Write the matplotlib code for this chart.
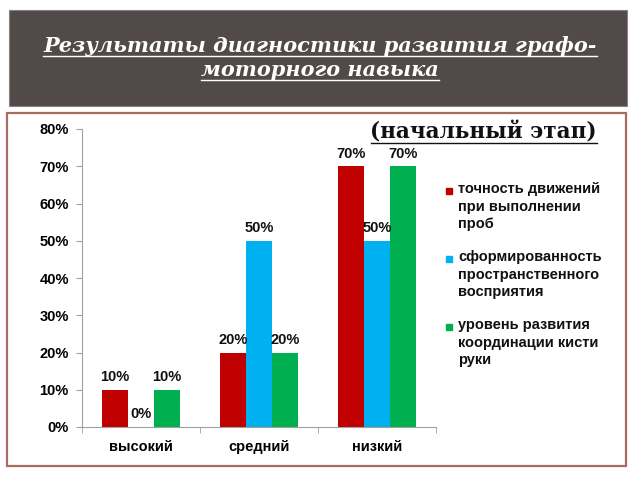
import numpy as np
import matplotlib.pyplot as plt
from matplotlib.patches import Rectangle
from matplotlib.lines import Line2D
from matplotlib.ticker import FuncFormatter

categories = ["высокий", "средний", "низкий"]
series_names = ["точность движений\nпри выполнении\nпроб",
                "сформированность\nпространственного\nвосприятия",
                "уровень развития\nкоординации кисти\nруки"]
accuracy = [10, 20, 70]
spatial = [0, 50, 50]
coordination = [10, 20, 70]
colors = ["#C00000", "#00B0F0", "#00B050"]

title_lines = ["Результаты диагностики развития графо-", "моторного навыка"]
subtitle = "(начальный этап)"

plt.rcParams['font.family'] = ['Liberation Sans', 'DejaVu Sans']

fig = plt.figure(figsize=(6.4, 4.8), dpi=100)
W, H = 640, 480

def fx(px):
    return px / W

def fy(py):
    return 1 - py / H

# title banner
fig.patches.append(Rectangle((fx(9), fy(106)), fx(618), 96 / H, transform=fig.transFigure,
                             facecolor="#524A49", edgecolor="#8a8282", lw=0.8, zorder=0))
# frame around the chart
fig.patches.append(Rectangle((fx(7), fy(466)), fx(619), 353 / H, transform=fig.transFigure,
                             facecolor="none", edgecolor="#A86B60", lw=1.6, zorder=0))

ax = fig.add_axes([fx(82), fy(427), fx(354), 298 / H])
x = np.arange(len(categories))
w = 0.22
data = [accuracy, spatial, coordination]
for i, vals in enumerate(data):
    bars = ax.bar(x + (i - 1) * w, vals, w, color=colors[i], zorder=2)
    ax.bar_label(bars, labels=[f"{v}%" for v in vals], padding=4,
                 fontsize=10.5, fontweight="bold", color="#111111", zorder=5)

ax.set_xlim(-0.5, 2.5)
ax.set_ylim(0, 80)
ax.set_yticks(range(0, 81, 10))
ax.yaxis.set_major_formatter(FuncFormatter(lambda v, p: f"{int(v)}%"))
ax.set_xticks(x)
ax.set_xticklabels(categories)
ax.set_xticks([-0.5, 0.5, 1.5, 2.5], minor=True)
for lab in ax.get_xticklabels() + ax.get_yticklabels():
    lab.set_fontweight("bold")
    lab.set_fontsize(10.5)
for lab in ax.get_xticklabels():
    lab.set_va("baseline")
ax.tick_params(axis="x", which="major", length=0, pad=17.5)
ax.tick_params(axis="x", which="minor", length=4, color="#A0A0A0")
ax.tick_params(axis="y", length=4, color="#A0A0A0", pad=5.5)
for s in ["top", "right"]:
    ax.spines[s].set_visible(False)
for s in ["left", "bottom"]:
    ax.spines[s].set_color("#A0A0A0")

# legend, drawn by hand so the square sits at the first line
for i, name in enumerate(series_names):
    ytop = 191 + i * 68
    fig.patches.append(Rectangle((fx(446), fy(ytop + 3)), fx(6), 6 / H,
                                 transform=fig.transFigure, color=colors[i]))
    fig.text(fx(458), fy(ytop - 9), name, ha="left", va="top", fontsize=10.5,
             fontweight="bold", color="#111111", linespacing=1.33)

# title and subtitle with underline
title_objs = []
for j, line in enumerate(title_lines):
    t = fig.text(0.5, fy(52 + j * 24), line, ha="center", va="baseline", color="white",
                 fontsize=15, fontweight="bold", fontstyle="italic", family="DejaVu Serif")
    title_objs.append((t, "white"))
st = fig.text(fx(597), fy(139), subtitle, ha="right", va="baseline", color="#111111",
              fontsize=15.5, fontweight="bold", family="DejaVu Serif")
title_objs.append((st, "#111111"))

fig.canvas.draw()
r = fig.canvas.get_renderer()
for t, c in title_objs:
    bb = t.get_window_extent(r)
    yb = t.get_position()[1] - 4 / H
    fig.lines.append(Line2D([bb.x0 / W, bb.x1 / W], [yb, yb], transform=fig.transFigure,
                            color=c, lw=1.0))

fig.savefig("out.png", dpi=100)
